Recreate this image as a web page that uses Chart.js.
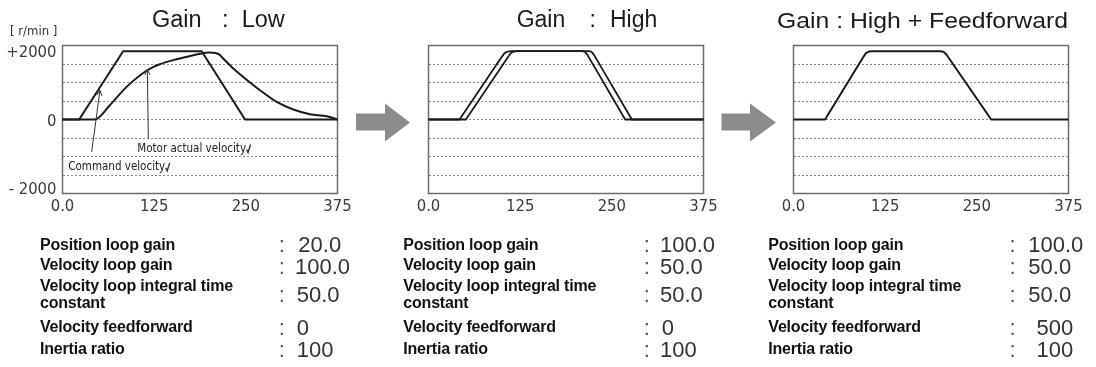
<!DOCTYPE html>
<html>
<head>
<meta charset="utf-8">
<script src="https://cdn.jsdelivr.net/npm/chart.js@4.4.0/dist/chart.umd.min.js"></script>
<style>
  html, body { margin: 0; padding: 0; background: #ffffff; }
  #wrap { position: relative; width: 1096px; height: 367px; overflow: hidden; background: #fff; }
  .cv { position: absolute; top: 0; }
  #overlay { position: absolute; left: 0; top: 0; }
</style>
</head>
<body>
<div id="wrap">
  <canvas id="c1" class="cv" width="360" height="232" style="left:0px"></canvas>
  <canvas id="c2" class="cv" width="360" height="232" style="left:366px"></canvas>
  <canvas id="c3" class="cv" width="360" height="232" style="left:731px"></canvas>
  <svg id="overlay" width="1096" height="367" xmlns="http://www.w3.org/2000/svg"></svg>
</div>
<script>
// ---------------- DATA ----------------
const tickTimes = [0, 125, 250, 375];
const tickLabels = ['0.0', '125', '250', '375'];
const yLabelValues = [-2000, 0, 2000];
const yLabelTexts = ['- 2000', '0', '+2000'];
const yUnit = '[ r/min ]';

// Gain : Low
const lowCmdT = [0, 22.7, 82.7, 189.8, 248.9, 375];
const lowCmdV = [0, 0, 2000, 2000, 0, 0];
const lowActT = [0, 44.1, 64.6, 87.4, 115.5, 132.8, 155.6, 178.3, 190, 198, 206, 214, 219.2, 232.9, 246.5, 269.3, 292.1, 314.8, 337.6, 360.4, 375];
const lowActV = [0, 0, 419, 955, 1443, 1619, 1766, 1883, 1935, 1965, 1955, 1900, 1786, 1493, 1247, 858, 515, 293, 155, 97, 0];

// Gain : High
const highCmdT = [0, 42.3, 100, 104, 108, 113, 209, 213, 216.5, 268.2, 375];
const highCmdV = [0, 0, 1835, 1950, 1990, 2000, 2000, 1985, 1900, 0, 0];
const highActT = [0, 51, 108.7, 112.5, 116.5, 121, 218, 222, 225.5, 277.3, 375];
const highActV = [0, 0, 1835, 1950, 1990, 2000, 2000, 1985, 1900, 0, 0];

// Gain : High + Feedforward
const ffT = [0, 43, 95, 99, 103, 107, 200, 204.5, 208.5, 269.6, 375];
const ffV = [0, 0, 1824, 1950, 1990, 2000, 2000, 1985, 1905, 0, 0];

// annotations (chart 1), data coordinates
const annoTexts = ['Motor actual velocity', 'Command velocity'];
const annoTextAt = [[102, -850], [7.9, -1388]];
const annoArrowFrom = [[117, -556], [39.8, -949]];
const annoArrowTo = [[115.7, 1464], [51.1, 858]];

// titles and parameter tables
const titleParts = [['Gain', ':', 'Low'], ['Gain', ':', 'High'], ['Gain : High + Feedforward']];
const paramNames = ['Position loop gain', 'Velocity loop gain', 'Velocity loop integral time', 'constant', 'Velocity feedforward', 'Inertia ratio'];
const lowParams = ['20.0', '100.0', '50.0', '0', '100'];
const highParams = ['100.0', '50.0', '50.0', '0', '100'];
const ffParams = ['100.0', '50.0', '50.0', '500', '100'];

// ---------------- CHARTS ----------------
const Y_LIM = 2167;
const NARROW = '"Liberation Sans Narrow", "Arial Narrow", "DejaVu Sans Condensed", sans-serif';
const toXY = (T, V) => T.map((t, i) => ({ x: t, y: V[i] }));

const boxPlugin = {
  id: 'box',
  beforeDatasetsDraw(chart) {
    const { ctx, chartArea: a } = chart;
    ctx.save();
    ctx.strokeStyle = '#6a6a6a';
    ctx.lineWidth = 1.5;
    ctx.strokeRect(a.left, a.top, a.right - a.left, a.bottom - a.top);
    ctx.restore();
  }
};

const annoPlugin = {
  id: 'anno',
  afterDatasetsDraw(chart) {
    const { ctx } = chart;
    const xs = chart.scales.x, ys = chart.scales.y;
    const px = p => [xs.getPixelForValue(p[0]), ys.getPixelForValue(p[1])];
    ctx.save();
    ctx.strokeStyle = '#333';
    ctx.fillStyle = '#1a1a1a';
    ctx.lineWidth = 1;
    annoArrowFrom.forEach((f, i) => {
      const [x1, y1] = px(f), [x2, y2] = px(annoArrowTo[i]);
      ctx.beginPath(); ctx.moveTo(x1, y1); ctx.lineTo(x2, y2); ctx.stroke();
      const ang = Math.atan2(y2 - y1, x2 - x1), L = 6, s = 0.45;
      ctx.beginPath();
      ctx.moveTo(x2 - L * Math.cos(ang - s), y2 - L * Math.sin(ang - s));
      ctx.lineTo(x2, y2);
      ctx.lineTo(x2 - L * Math.cos(ang + s), y2 - L * Math.sin(ang + s));
      ctx.stroke();
    });
    ctx.font = '11.5px ' + NARROW;
    ctx.textBaseline = 'middle';
    ctx.textAlign = 'left';
    annoTexts.forEach((t, i) => {
      const [x, y] = px(annoTextAt[i]);
      ctx.fillText(t, x, y);
      const w = ctx.measureText(t).width;
      ctx.lineWidth = 1.4;
      ctx.beginPath();
      ctx.moveTo(x + w + 0.5, y + 1); ctx.lineTo(x + w + 2, y + 4); ctx.lineTo(x + w + 4.5, y - 4);
      ctx.stroke();
    });
    ctx.restore();
  }
};

function makeChart(id, datasets, showY, extraPlugins) {
  return new Chart(document.getElementById(id), {
    type: 'line',
    data: { datasets },
    options: {
      responsive: false,
      animation: false,
      devicePixelRatio: 1,
      layout: { padding: { top: 45.5, right: 22.5, left: 0, bottom: 0 } },
      plugins: { legend: { display: false }, tooltip: { enabled: false }, title: { display: false } },
      elements: { point: { radius: 0 }, line: { borderJoinStyle: 'round', borderCapStyle: 'round' } },
      scales: {
        x: {
          type: 'linear', min: 0, max: 375,
          grid: { display: false, drawTicks: false }, border: { display: false },
          afterBuildTicks: s => { s.ticks = tickTimes.map(v => ({ value: v })); },
          afterFit: s => { s.height = 38.5; },
          ticks: { autoSkip: false, maxRotation: 0, padding: 3, color: '#3a3a3a',
                   font: { family: NARROW, size: 16.5 }, callback: (v, i) => tickLabels[i] }
        },
        y: {
          type: 'linear', position: 'left', min: -Y_LIM, max: Y_LIM,
          afterBuildTicks: s => { s.ticks = Array.from({ length: 9 }, (_, i) => ({ value: -Y_LIM + i * Y_LIM / 4 })); },
          afterFit: s => { s.width = 0; },
          grid: { color: '#8a8a8a', lineWidth: 1, drawTicks: false },
          border: { display: false, dash: [2, 2] },
          ticks: { display: false }
        },
        yl: {
          type: 'linear', position: 'left', min: -Y_LIM, max: Y_LIM,
          afterBuildTicks: s => { s.ticks = yLabelValues.map(v => ({ value: v })); },
          afterFit: s => { s.width = 62.5; },
          grid: { display: false, drawTicks: false }, border: { display: false },
          ticks: { display: showY, padding: 6, labelOffset: 2, color: '#3a3a3a',
                   font: { family: NARROW, size: 16.5 }, callback: (v, i) => yLabelTexts[i] }
        }
      }
    },
    plugins: [boxPlugin].concat(extraPlugins || [])
  });
}

const lineStyle = (w) => ({ borderColor: '#1a1a1a', borderWidth: w, fill: false, pointRadius: 0, tension: 0 });

makeChart('c1', [
  Object.assign({ label: 'Command velocity', data: toXY(lowCmdT, lowCmdV) }, lineStyle(2)),
  Object.assign({ label: 'Motor actual velocity', data: toXY(lowActT, lowActV), cubicInterpolationMode: 'monotone' }, lineStyle(2))
], true, [annoPlugin]);

makeChart('c2', [
  Object.assign({ label: 'Command velocity', data: toXY(highCmdT, highCmdV) }, lineStyle(1.8)),
  Object.assign({ label: 'Motor actual velocity', data: toXY(highActT, highActV) }, lineStyle(1.8))
], false);

makeChart('c3', [
  Object.assign({ label: 'Velocity', data: toXY(ffT, ffV) }, lineStyle(2))
], false);

// ---------------- TEXT OVERLAY ----------------
const svg = document.getElementById('overlay');
const NS = 'http://www.w3.org/2000/svg';
function txt(s, x, y, attrs) {
  const t = document.createElementNS(NS, 'text');
  t.setAttribute('x', x); t.setAttribute('y', y);
  for (const k in attrs) t.setAttribute(k, attrs[k]);
  t.textContent = s;
  svg.appendChild(t);
  return t;
}
function poly(pts, fill) {
  const p = document.createElementNS(NS, 'polygon');
  p.setAttribute('points', pts.map(q => q.join(',')).join(' '));
  p.setAttribute('fill', fill);
  svg.appendChild(p);
}
const SANS = '"Liberation Sans", Arial, Helvetica, sans-serif';

// unit label
txt(yUnit, 10, 34.5, { 'font-family': NARROW, 'font-size': 13, fill: '#333' });

// titles
const tAttr = (sz) => ({ 'font-family': SANS, 'font-size': sz, fill: '#1a1a1a' });
txt(titleParts[0][0], 152, 27, tAttr(23.5));
txt(titleParts[0][1], 222, 27, tAttr(23.5));
txt(titleParts[0][2], 241.7, 27, tAttr(23.5));
txt(titleParts[1][0], 516.7, 26.5, tAttr(23));
txt(titleParts[1][1], 589.5, 26.5, tAttr(23));
txt(titleParts[1][2], 610, 26.5, tAttr(23));
txt(titleParts[2][0], 777, 28, Object.assign(tAttr(22.8), { textLength: 291, lengthAdjust: 'spacingAndGlyphs' }));

// block arrows
poly([[356,113.5],[385,113.5],[385,103.5],[410,122.5],[385,141.5],[385,130.5],[356,130.5]], '#8c8c8c');
poly([[721.5,113.5],[750,113.5],[750,103.5],[776,122.5],[750,141.5],[750,130.5],[721.5,130.5]], '#8c8c8c');

// parameter tables
const nameBase = [249.8, 269.8, 290.5, 307.5, 331.5, 353.5];
const valBase = [252.4, 273.5, 301.5, 334.5, 356.5];
const tables = [
  { left: 40, colon: 281.7, vals: lowParams, vx: [298.3, 295, 296.7, 296.7, 296.7], anchor: ['start','start','start','start','start'] },
  { left: 403.3, colon: 646.7, vals: highParams, vx: [660, 660, 660, 661.7, 660], anchor: ['start','start','start','start','start'] },
  { left: 768.3, colon: 1012.5, vals: ffParams, vx: [1028.3, 1028.3, 1028.3, 1073.3, 1073.3], anchor: ['start','start','start','end','end'] }
];
tables.forEach(tb => {
  paramNames.forEach((n, i) => {
    txt(n, tb.left, nameBase[i], { 'font-family': SANS, 'font-size': 16, 'font-weight': 'bold', fill: '#111', 'letter-spacing': '-0.2' });
  });
  tb.vals.forEach((v, i) => {
    txt(':', tb.colon, valBase[i], { 'font-family': SANS, 'font-size': 22, fill: '#555', 'text-anchor': 'middle' });
    txt(v, tb.vx[i], valBase[i], { 'font-family': SANS, 'font-size': 22, fill: '#333', 'text-anchor': tb.anchor[i] });
  });
});
</script>
</body>
</html>
